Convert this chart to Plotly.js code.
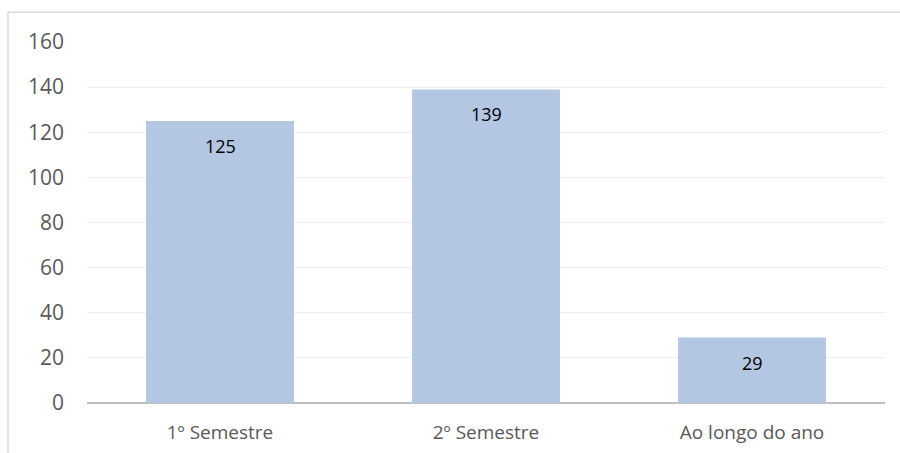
<!DOCTYPE html>
<html><head><meta charset="utf-8">
<script src="https://cdn.plot.ly/plotly-3.0.1.min.js"></script>
<style>body{margin:0;background:#fff}#c{width:900px;height:453px}</style>
</head><body><div id="c"></div>
<script>
const categories = ["1º Semestre", "2º Semestre", "Ao longo do ano"];
const values = [125, 139, 29];
const yTicks = [0, 20, 40, 60, 80, 100, 120, 140, 160];

const trace = {
  type: 'bar', x: categories, y: values,
  marker: {color: '#B4C7E2'},
  hoverinfo: 'none'
};
const annotations = categories.map((c, i) => ({
  x: c, y: values[i], xref: 'x', yref: 'y', text: String(values[i]),
  showarrow: false, yshift: -25,
  font: {family: 'Open Sans, sans-serif', size: 18, color: '#000'}
}));
const layout = {
  width: 900, height: 453,
  margin: {l: 87, r: 15, t: 42, b: 50},
  paper_bgcolor: '#fff', plot_bgcolor: '#fff',
  bargap: 0.444,
  showlegend: false,
  font: {family: 'Open Sans, sans-serif', color: '#595959'},
  xaxis: {
    type: 'category', range: [-0.5, 2.5], showgrid: false, ticks: '', showline: false,
    tickfont: {size: 19, color: '#595959'}, ticklabelstandoff: 16
  },
  yaxis: {
    range: [0, 160], tickvals: yTicks, ticktext: yTicks.map(String),
    showgrid: true, gridcolor: '#EEEEEE', gridwidth: 1,
    zeroline: true, zerolinecolor: '#BFBFBF', zerolinewidth: 2,
    tickfont: {size: 21, color: '#595959'}, ticklabelstandoff: 22, showline: false
  },
  annotations: annotations,
  shapes: [
    {type: 'line', xref: 'paper', yref: 'paper', x0: -0.0990, x1: 1.1, y0: 1.0823, y1: 1.0823,
     line: {color: '#D9D9D9', width: 1.5}},
    {type: 'line', xref: 'paper', yref: 'paper', x0: -0.0990, x1: -0.0990, y0: 1.0823, y1: -0.2,
     line: {color: '#D9D9D9', width: 1.5}}
  ]
};
Plotly.newPlot('c', [trace], layout, {displayModeBar: false, staticPlot: true});
</script></body></html>
